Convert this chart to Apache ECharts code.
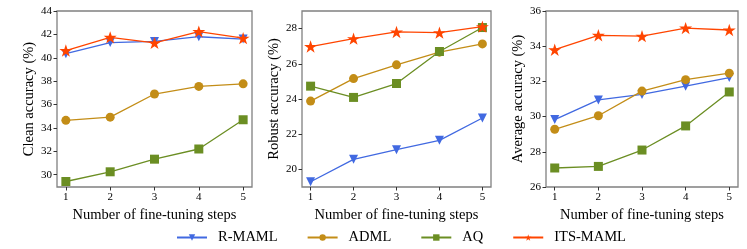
<!DOCTYPE html>
<html><head><meta charset="utf-8">
<script src="https://cdn.jsdelivr.net/npm/echarts@6/dist/echarts.min.js"></script>
<style>html,body{margin:0;padding:0;background:#fff}#c{width:747px;height:249px}</style>
</head><body><div id="c"></div>
<script>
var steps = [1, 2, 3, 4, 5];
var methods = ['R-MAML', 'ADML', 'AQ', 'ITS-MAML'];
var cleanRMAML = [40.35, 41.3, 41.4, 41.8, 41.6];
var cleanADML  = [34.65, 34.92, 36.9, 37.55, 37.77];
var cleanAQ    = [29.42, 30.25, 31.33, 32.2, 34.7];
var cleanITS   = [40.62, 41.75, 41.27, 42.24, 41.68];
var robustRMAML = [19.3, 20.57, 21.12, 21.65, 22.92];
var robustADML  = [23.88, 25.16, 25.94, 26.66, 27.13];
var robustAQ    = [24.73, 24.09, 24.88, 26.7, 28.06];
var robustITS   = [26.98, 27.43, 27.81, 27.77, 28.11];
var avgRMAML = [29.83, 30.95, 31.26, 31.73, 32.22];
var avgADML  = [29.28, 30.05, 31.45, 32.1, 32.47];
var avgAQ    = [27.08, 27.17, 28.1, 29.47, 31.4];
var avgITS   = [33.8, 34.62, 34.57, 35.03, 34.92];
var cleanTicks = [30, 32, 34, 36, 38, 40, 42, 44];
var robustTicks = [20, 22, 24, 26, 28];
var avgTicks = [26, 28, 30, 32, 34, 36];
var yTitles = ['Clean accuracy (%)', 'Robust accuracy (%)', 'Average accuracy (%)'];
var xTitle = 'Number of fine-tuning steps';

var panels = [
  {data: [cleanRMAML, cleanADML, cleanAQ, cleanITS], ticks: cleanTicks, min: 28.95, max: 44},
  {data: [robustRMAML, robustADML, robustAQ, robustITS], ticks: robustTicks, min: 19, max: 29},
  {data: [avgRMAML, avgADML, avgAQ, avgITS], ticks: avgTicks, min: 26, max: 36}
];
var grids = [
  {left: 57, top: 11, width: 195, height: 176},
  {left: 302, top: 11, width: 189, height: 176},
  {left: 546, top: 11, width: 192, height: 176}
];
var star = 'path://M100,0 L122.45,69.1 L195.1,69.1 L136.3,111.8 L158.8,180.9 L100,138.2 L41.2,180.9 L63.7,111.8 L4.9,69.1 L77.55,69.1 Z';
var styles = [
  {color: '#4169E1', symbol: 'triangle', size: 9, rotate: 180},
  {color: '#C38D17', symbol: 'circle', size: 9, rotate: 0},
  {color: '#6B8E23', symbol: 'rect', size: 9, rotate: 0},
  {color: '#FF4500', symbol: star, size: 13, rotate: 0}
];
var font = 'Liberation Serif';
var xAxes = [], yAxes = [], series = [];
panels.forEach(function (p, i) {
  grids[i].show = true;
  grids[i].borderColor = '#808080';
  grids[i].borderWidth = 1.3;
  xAxes.push({
    type: 'value', gridIndex: i, min: 0.8, max: 5.2,
    name: xTitle, nameLocation: 'middle', nameGap: 13,
    nameTextStyle: {fontFamily: font, fontSize: 14.5, color: '#000'},
    axisLine: {show: false}, splitLine: {show: false},
    axisTick: {show: true, customValues: steps, length: 3.5, lineStyle: {color: '#333'}},
    axisLabel: {customValues: steps, margin: 5, fontFamily: font, fontSize: 11, color: '#000'}
  });
  yAxes.push({
    type: 'value', gridIndex: i, min: p.min, max: p.max,
    name: yTitles[i], nameLocation: 'middle', nameGap: 17,
    nameTextStyle: {fontFamily: font, fontSize: 14.5, color: '#000'},
    axisLine: {show: false}, splitLine: {show: false},
    axisTick: {show: true, customValues: p.ticks, length: 3.5, lineStyle: {color: '#333'}},
    axisLabel: {customValues: p.ticks, margin: 5, fontFamily: font, fontSize: 11, color: '#000'}
  });
  p.data.forEach(function (vals, k) {
    var s = styles[k];
    series.push({
      type: 'line', name: methods[k], xAxisIndex: i, yAxisIndex: i,
      data: steps.map(function (x, j) { return [x, vals[j]]; }),
      symbol: s.symbol, symbolSize: s.size, symbolRotate: s.rotate, symbolKeepAspect: true,
      showAllSymbol: true, animation: false, z: 2 + k,
      lineStyle: {color: s.color, width: 1.3},
      itemStyle: {color: s.color, opacity: 1}
    });
  });
});
var chart = echarts.init(document.getElementById('c'), null, {renderer: 'canvas'});
chart.setOption({
  backgroundColor: '#fff',
  animation: false,
  grid: grids,
  xAxis: xAxes,
  yAxis: yAxes,
  legend: {
    data: methods, left: 171, top: 225, itemWidth: 30, itemHeight: 8, itemGap: 29,
    textStyle: {fontFamily: font, fontSize: 14.5, color: '#000', padding: [0, 0, 0, 6]}
  },
  series: series
});
</script></body></html>
